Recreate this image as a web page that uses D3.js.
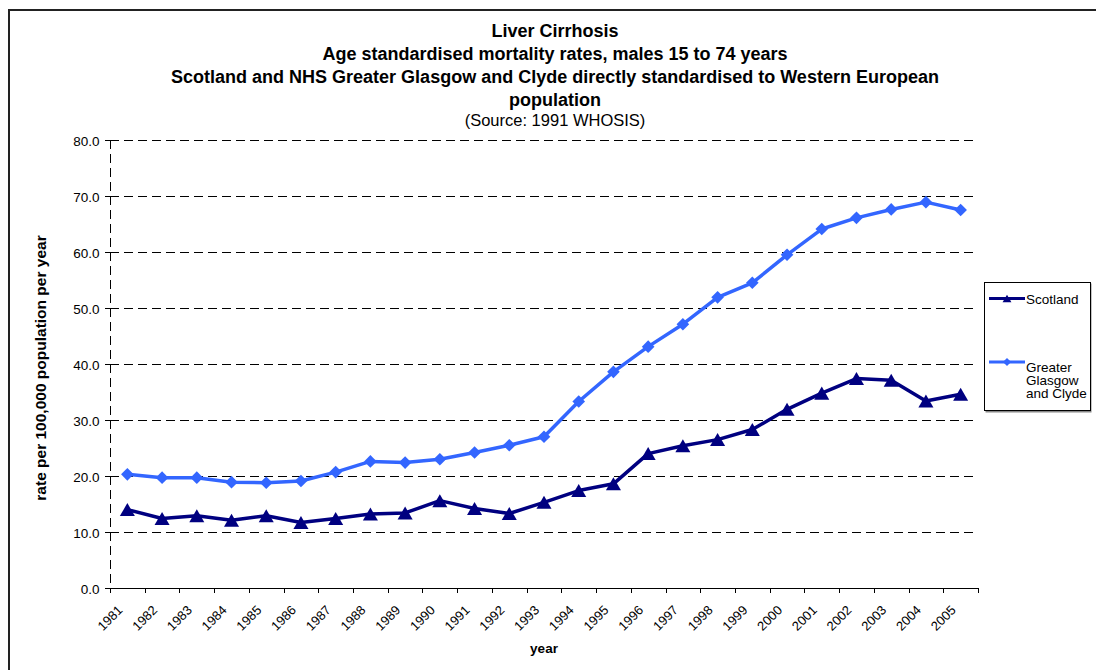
<!DOCTYPE html>
<html>
<head>
<meta charset="utf-8">
<script src="https://cdn.jsdelivr.net/npm/d3@7"></script>
<style>
body { margin: 0; background: #fff; }
text { font-family: "Liberation Sans", Arial, sans-serif; fill: #000; }
</style>
</head>
<body>
<script>
// data
const years = ["1981","1982","1983","1984","1985","1986","1987","1988","1989","1990","1991","1992","1993",
               "1994","1995","1996","1997","1998","1999","2000","2001","2002","2003","2004","2005"];
const scotland = [14.0,12.4,12.9,12.1,12.9,11.7,12.4,13.2,13.4,15.6,14.2,13.3,15.3,
                  17.4,18.6,24.0,25.4,26.5,28.3,31.9,34.8,37.4,37.1,33.4,34.6];
const glasgow = [20.3,19.7,19.7,18.9,18.8,19.1,20.7,22.6,22.4,23.0,24.2,25.5,27.0,
                 33.3,38.6,43.1,47.1,51.9,54.5,59.5,64.1,66.1,67.6,68.9,67.5];
const yTicks = [0,10,20,30,40,50,60,70,80];
const titleLines = [
    {text: "Liver Cirrhosis", bold: true, y: 37},
    {text: "Age standardised mortality rates, males 15 to 74 years", bold: true, y: 59.5},
    {text: "Scotland and NHS Greater Glasgow and Clyde directly standardised to Western European", bold: true, y: 82.5},
    {text: "population", bold: true, y: 105.5},
    {text: "(Source: 1991 WHOSIS)", bold: false, y: 125.5}
];

const width = 1096;
const height = 670;
const pLeft = 110, pRight = 978, pTop = 140, pBottom = 588;

let svg = d3.select('body')
            .append('svg')
            .attr('width', width)
            .attr('height', height);

// outer frame
svg.append('rect')
   .attr('x', 9).attr('y', 10)
   .attr('width', 1100).attr('height', 680)
   .attr('fill', 'none').attr('stroke', '#222').attr('stroke-width', 2);

let x = d3.scaleBand().domain(years).range([pLeft, pRight]);
let y = d3.scaleLinear().domain([0, 80]).range([pBottom, pTop]);
let cx = d => x(d) + x.bandwidth() / 2;

// gridlines
svg.selectAll('.grid')
   .data(yTicks.filter(t => t > 0))
   .enter()
   .append('line')
   .attr('x1', pLeft).attr('x2', pRight)
   .attr('y1', d => Math.round(y(d)) + 0.5)
   .attr('y2', d => Math.round(y(d)) + 0.5)
   .attr('stroke', '#000')
   .attr('stroke-dasharray', '9,5');

// y axis (dashed like the original)
svg.append('line')
   .attr('x1', pLeft + 0.5).attr('x2', pLeft + 0.5)
   .attr('y1', pTop).attr('y2', pBottom)
   .attr('stroke', '#000')
   .attr('stroke-dasharray', '9,5');

svg.selectAll('.ytick')
   .data(yTicks)
   .enter()
   .append('line')
   .attr('x1', pLeft - 5).attr('x2', pLeft)
   .attr('y1', d => Math.round(y(d)) + 0.5)
   .attr('y2', d => Math.round(y(d)) + 0.5)
   .attr('stroke', '#000');

svg.selectAll('.ylabel')
   .data(yTicks)
   .enter()
   .append('text')
   .attr('x', pLeft - 10.5)
   .attr('y', d => y(d) + 5.5)
   .attr('text-anchor', 'end')
   .style('font-size', '13.5px')
   .text(d => d.toFixed(1));

// x axis
svg.append('line')
   .attr('x1', pLeft).attr('x2', pRight)
   .attr('y1', pBottom + 0.5).attr('y2', pBottom + 0.5)
   .attr('stroke', '#000');

svg.selectAll('.xtick')
   .data(years.concat(['end']))
   .enter()
   .append('line')
   .attr('x1', d => Math.round(d === 'end' ? pRight : x(d)) + 0.5)
   .attr('x2', d => Math.round(d === 'end' ? pRight : x(d)) + 0.5)
   .attr('y1', pBottom).attr('y2', pBottom + 5)
   .attr('stroke', '#000');

svg.selectAll('.xlabel')
   .data(years)
   .enter()
   .append('text')
   .attr('transform', d => `translate(${cx(d) - 4},${pBottom + 23}) rotate(-45)`)
   .attr('text-anchor', 'end')
   .style('font-size', '13px')
   .text(d => d);

// titles
svg.selectAll('.title')
   .data(titleLines)
   .enter()
   .append('text')
   .attr('x', 555)
   .attr('y', d => d.y)
   .attr('text-anchor', 'middle')
   .style('font-size', d => d.bold ? '18px' : '16.5px')
   .style('font-weight', d => d.bold ? 'bold' : 'normal')
   .text(d => d.text);

svg.append('text')
   .attr('x', 544).attr('y', 653)
   .attr('text-anchor', 'middle')
   .style('font-size', '13.5px')
   .style('font-weight', 'bold')
   .text('year');

svg.append('text')
   .attr('transform', `translate(46,368) rotate(-90)`)
   .attr('text-anchor', 'middle')
   .style('font-size', '15.5px')
   .style('font-weight', 'bold')
   .text('rate per 100,000 population per year');

// series
const series = [
    {name: 'Scotland', values: scotland, color: '#000080', symbol: d3.symbolTriangle, size: 98, legendSize: 34, rot: 0},
    {name: 'Greater Glasgow and Clyde', values: glasgow, color: '#3366FF', symbol: d3.symbolSquare, size: 80, legendSize: 34, rot: 45}
];

// triangle is drawn about its centroid; shift so its box is centred on the value
function markerOffset(s, size) {
    return s.symbol === d3.symbolTriangle ? Math.sqrt(size / (3 * Math.sqrt(3))) / 2 : 0;
}

let line = d3.line()
             .x((d, i) => cx(years[i]))
             .y(d => y(d));

series.forEach(s => {
    svg.append('path')
       .datum(s.values)
       .attr('d', line)
       .attr('fill', 'none')
       .attr('stroke', s.color)
       .attr('stroke-width', 3.5)
       .attr('stroke-linejoin', 'round');
    svg.selectAll(null)
       .data(s.values)
       .enter()
       .append('path')
       .attr('transform', (d, i) => `translate(${cx(years[i])},${y(d) + markerOffset(s, s.size)}) rotate(${s.rot})`)
       .attr('d', d3.symbol().type(s.symbol).size(s.size))
       .attr('fill', s.color);
});

// legend
let legend = svg.append('g');
legend.append('rect')
      .attr('x', 985.5).attr('y', 283.5)
      .attr('width', 106).attr('height', 129)
      .attr('fill', '#888');
legend.append('rect')
      .attr('x', 984.5).attr('y', 282.5)
      .attr('width', 106).attr('height', 128)
      .attr('fill', '#fff').attr('stroke', '#000');

const legendRows = [
    {s: series[0], y: 298.5, textY: 303.5, lines: ['Scotland']},
    {s: series[1], y: 362, textY: 371.5, lines: ['Greater', 'Glasgow', 'and Clyde']}
];
legendRows.forEach(r => {
    legend.append('line')
          .attr('x1', 989).attr('x2', 1025)
          .attr('y1', r.y).attr('y2', r.y)
          .attr('stroke', r.s.color).attr('stroke-width', 3);
    legend.append('path')
          .attr('transform', `translate(1007,${r.y + markerOffset(r.s, r.s.legendSize)}) rotate(${r.s.rot})`)
          .attr('d', d3.symbol().type(r.s.symbol).size(r.s.legendSize))
          .attr('fill', r.s.color);
    legend.selectAll(null)
          .data(r.lines)
          .enter()
          .append('text')
          .attr('x', 1026)
          .attr('y', (d, i) => r.textY + i * 13)
          .style('font-size', '13.5px')
          .text(d => d);
});
</script>
</body>
</html>
